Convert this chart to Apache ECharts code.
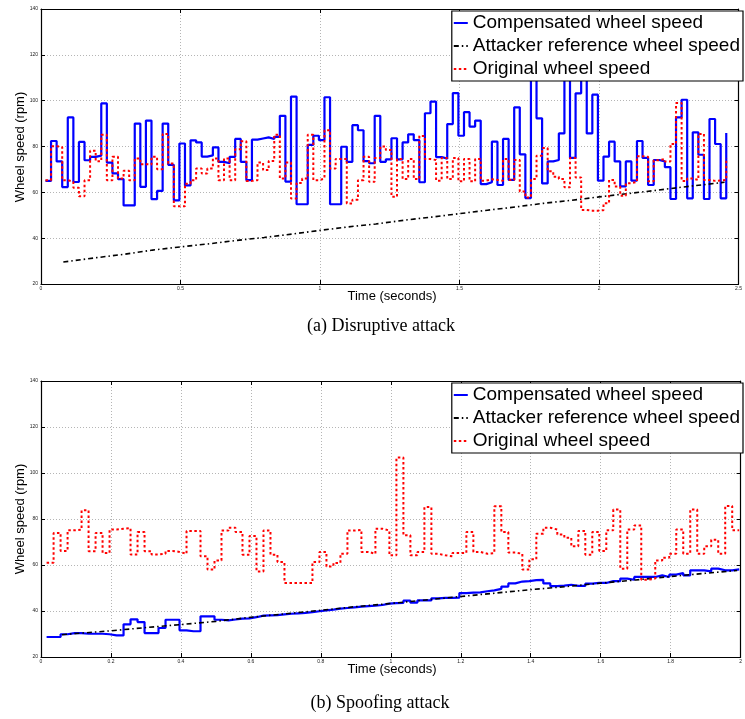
<!DOCTYPE html>
<html>
<head>
<meta charset="utf-8">
<script src="https://cdn.jsdelivr.net/npm/echarts@6/dist/echarts.min.js"></script>
<style>
html, body { margin: 0; padding: 0; background: #fff; }
#chart { width: 745px; height: 719px; }
</style>
</head>
<body>
<div id="chart"></div>
<script>
// sample time of the first step and step width (s)
var T0 = 0.016;
var DT = 0.02;

var seriesNames = ['Compensated wheel speed', 'Attacker reference wheel speed', 'Original wheel speed'];

// (a) disruptive attack
var topBlue = [
	65, 82.4, 73.5, 62.3, 92.7, 64.5, 82, 74, 75.5, 76,
	98.8, 73, 68.3, 65.8, 54.3, 54.3, 90, 62.4, 91.3, 57,
	60.6, 90, 72, 56.5, 81.3, 63, 82.7, 81.8, 75.6, 76.1,
	79.6, 73.3, 72.7, 75.5, 83.3, 73.3, 65.3, 83, 83.5, 84,
	83.3, 84.2, 93.4, 64.7, 101.8, 54.8, 54.8, 80.7, 84.7, 82.8,
	101.5, 54.8, 54.8, 79.9, 73.3, 89.3, 87.1, 73.6, 72.7, 93.4,
	73.3, 74.4, 83.6, 74.4, 81.8, 85.3, 82.8, 64.4, 94.5, 99.6,
	75.4, 74.7, 89.8, 103.3, 84.7, 95, 88.7, 91.3, 63.6, 64.4,
	82.1, 63.2, 83.3, 65.4, 97.1, 76.6, 57.5, 115, 92.3, 63.9,
	73.5, 74.1, 85.7, 112, 75, 103.2, 110, 85.7, 102.6, 65.1,
	75.6, 82.1, 73.5, 62.6, 73.5, 65.1, 82.4, 75, 63.2, 74.1,
	73.5, 71, 57.1, 92.7, 100.4, 57.4, 86.2, 76.4, 57.1, 92,
	81.1, 57.4, 85.9
];
var topRed = [
	65.3, 80.1, 79.8, 65.3, 64.6, 62, 58.3, 65.3, 78.2, 73.6,
	85.1, 65.3, 75.5, 66, 69.4, 65.3, 74.8, 72.3, 72.1, 75.5,
	70.1, 85.5, 72.6, 53.9, 53.9, 63.8, 65.3, 70.4, 68.2, 70.4,
	74.8, 65.3, 74.8, 65.3, 78.8, 82.3, 65, 65.3, 73, 69.7,
	73.7, 85.1, 66, 73, 57.3, 64.1, 66, 85.1, 65.3, 66,
	87.1, 70.4, 74.6, 74.6, 55.1, 56.8, 65.3, 75.5, 64.6, 75,
	80, 78.5, 58.1, 74.5, 65.8, 74.5, 65.8, 84.6, 74.5, 74.1,
	65.1, 75, 65.8, 75, 64.8, 74.5, 64.8, 74.5, 65.1, 65.7,
	65.4, 65.1, 74.5, 65.4, 74.1, 60.4, 57.8, 65.8, 76, 79.3,
	69.2, 66.8, 65.8, 62.2, 75, 66.5, 52.3, 52, 52, 52.2,
	55.2, 65.4, 62.5, 58.5, 64, 64.5, 75.8, 75.5, 64.8, 74,
	74.5, 73.5, 81.1, 99, 65, 66, 65.4, 85.5, 65.4, 65,
	65.2, 65.4, 75
];
var topAttackT = [0.08, 0.2, 0.3, 0.4, 0.5, 0.6, 0.7, 0.8, 0.9, 1.0, 1.1, 1.2, 1.3, 1.4, 1.5, 1.6, 1.7, 1.8, 1.9, 2.0, 2.1, 2.2, 2.3, 2.45];
var topAttackV = [29.6, 31.5, 33, 34.8, 36.2, 37.5, 39, 40.3, 41.8, 43.4, 44.9, 46.2, 47.8, 49.2, 50.7, 52.2, 53.6, 55.2, 56.5, 58, 59.4, 60.8, 62.3, 64.4];

// (b) spoofing attack
var botBlue = [
	28.7, 28.7, 29.9, 30.4, 30.4, 30.1, 30.1, 30.1, 29.9, 29.4,
	29.4, 34.2, 36.4, 35.2, 30.4, 30.4, 32.6, 36.2, 36.2, 31.6,
	31.2, 31.2, 37.7, 37.7, 36.2, 35.9, 36.3, 36.7, 36.8, 37.3,
	38, 38.1, 38.2, 38.5, 38.8, 39, 39.2, 39.5, 39.9, 40.3,
	40.6, 41, 41.3, 41.6, 41.9, 42.1, 42.3, 42.6, 43.2, 43.4,
	43.5, 44.5, 43.6, 44.6, 44.6, 45.5, 45.7, 45.7, 45.8, 47.8,
	48, 48.1, 48.6, 49, 49.6, 50.6, 52, 52.8, 53, 53.4,
	53.5, 52, 50.8, 51, 51.4, 50.9, 50.9, 51.9, 52.2, 52.2,
	53, 53, 54.1, 53.6, 54.8, 54.8, 54.8, 55.5, 54.8, 55.8,
	56.5, 55.5, 57.7, 57.7, 57.2, 58.4, 57.7, 57.7, 58.1, 58.1
];
var botRed = [
	61, 73.9, 66.1, 75.1, 75.4, 83.8, 66, 73.9, 65.2, 75.4,
	75.8, 76.1, 64.6, 74.3, 66, 64.6, 64.9, 66.1, 65.7, 64.9,
	74.8, 74.8, 63.8, 58, 62, 75, 76.2, 74.3, 64.5, 72.6,
	57.2, 75, 64.5, 61.3, 52.2, 52.2, 52.2, 52.2, 61.3, 65.7,
	59.4, 60.9, 64.9, 75, 75.3, 65.7, 64.9, 75.8, 75, 64.2,
	106.7, 72.9, 64.2, 65.7, 85.2, 64.9, 64.2, 63.8, 65.2, 65.2,
	74.3, 65.7, 64.9, 65.2, 85.5, 74.3, 65.4, 64.9, 58, 62.5,
	73.6, 76.2, 75.4, 73.3, 71.9, 68.1, 74.8, 64.5, 74.3, 66.1,
	75.1, 84.1, 58.4, 75.4, 77.2, 53.6, 54.1, 62, 63.2, 64.9,
	75.4, 64.9, 84.1, 64.9, 68.1, 71, 64.9, 85.7, 75.1, 75.1
];
var botAttackT = [0.06, 0.1, 0.2, 0.3, 0.4, 0.5, 0.6, 0.7, 0.8, 0.9, 1.0, 1.1, 1.2, 1.3, 1.4, 1.5, 1.6, 1.7, 1.8, 1.9, 1.99];
var botAttackV = [29.7, 30.2, 31.4, 32.8, 34.1, 35.5, 37.3, 38.8, 40.3, 41.9, 43.3, 44.8, 46.3, 47.8, 49.3, 50.6, 52.1, 53.5, 55, 56.4, 57.6];

// tick labels
var yTicks = [20, 40, 60, 80, 100, 120, 140];
var topXTicks = [0, 0.5, 1, 1.5, 2, 2.5];
var botXTicks = [0, 0.2, 0.4, 0.6, 0.8, 1, 1.2, 1.4, 1.6, 1.8, 2];

var SANS = '"Liberation Sans", Arial, Helvetica, sans-serif';
var SERIF = '"Liberation Serif", "Times New Roman", serif';

function stairs(vals) {
	var out = [];
	for (var i = 0; i < vals.length; i++) {
		out.push([+(T0 + DT * i).toFixed(3), vals[i]]);
	}
	return out;
}
function pairs(ts, vs) {
	return ts.map(function(t, i) { return [t, vs[i]]; });
}

function xAxis(grid, ticks, pos) {
	var main = pos == 'bottom';
	return {
		type: 'value', gridIndex: grid, position: pos,
		min: ticks[0], max: ticks[ticks.length - 1], interval: ticks[1] - ticks[0],
		axisLine: { show: true, onZero: false, lineStyle: { color: '#000', width: 1.2 } },
		axisTick: { show: true, inside: true, length: 4, lineStyle: { color: '#000' } },
		axisLabel: { show: main, fontSize: 5, color: '#222', margin: 2, fontFamily: SANS },
		splitLine: { show: main, lineStyle: { color: '#b5b5b5', type: [1, 2], width: 1 } }
	};
}
function yAxis(grid, pos) {
	var main = pos == 'left';
	return {
		type: 'value', gridIndex: grid, position: pos,
		min: yTicks[0], max: yTicks[yTicks.length - 1], interval: 20,
		axisLine: { show: true, onZero: false, lineStyle: { color: '#000', width: 1.2 } },
		axisTick: { show: true, inside: true, length: 4, lineStyle: { color: '#000' } },
		axisLabel: { show: main, fontSize: 5, color: '#222', margin: 3, fontFamily: SANS },
		splitLine: { show: main, lineStyle: { color: '#b5b5b5', type: [1, 2], width: 1 } }
	};
}
function legend(top) {
	// itemStyle opacity 0 hides the marker dot, the line sample stays
	return {
		orient: 'vertical', right: 2, top: top,
		backgroundColor: '#fff', borderColor: '#000', borderWidth: 1.2, borderRadius: 0,
		padding: [1, 3, 1, 1], itemGap: 1, itemWidth: 14, itemHeight: 10,
		selectedMode: false,
		itemStyle: { opacity: 0 },
		textStyle: { fontFamily: SANS, fontSize: 19, color: '#000', lineHeight: 22 },
		data: seriesNames
	};
}
function lines(xi, yi, blue, attack, red) {
	return [{
		name: seriesNames[0], type: 'line', xAxisIndex: xi, yAxisIndex: yi,
		step: 'end', symbol: 'none', data: blue,
		lineStyle: { color: '#0000ff', width: 2.2 }, itemStyle: { color: '#0000ff' }
	}, {
		name: seriesNames[1], type: 'line', xAxisIndex: xi, yAxisIndex: yi,
		symbol: 'none', data: attack,
		lineStyle: { color: '#000', width: 1.6, type: [5, 3, 1.5, 3] }, itemStyle: { color: '#000' }
	}, {
		name: seriesNames[2], type: 'line', xAxisIndex: xi, yAxisIndex: yi,
		step: 'end', symbol: 'none', data: red,
		lineStyle: { color: '#ff0000', width: 2, type: [2.5, 2.5] }, itemStyle: { color: '#ff0000' }
	}];
}
function label(text, x, y, font, rot) {
	return {
		type: 'text', x: x, y: y, rotation: rot || 0, z: 10,
		style: { text: text, font: font, fill: '#000', align: 'center', verticalAlign: 'middle' }
	};
}

var myChart = echarts.init(document.getElementById('chart'), null, { renderer: 'canvas' });
var option = {
	animation: false,
	backgroundColor: '#fff',
	grid: [
		{ left: 41, top: 9, width: 702, height: 275 },
		{ left: 41, top: 381, width: 702, height: 276 }
	],
	xAxis: [
		xAxis(0, topXTicks, 'bottom'), xAxis(0, topXTicks, 'top'),
		xAxis(1, botXTicks, 'bottom'), xAxis(1, botXTicks, 'top')
	],
	yAxis: [
		yAxis(0, 'left'), yAxis(0, 'right'),
		yAxis(1, 'left'), yAxis(1, 'right')
	],
	legend: [legend(11), legend(383)],
	series: lines(0, 0, stairs(topBlue), pairs(topAttackT, topAttackV), stairs(topRed))
		.concat(lines(2, 2, stairs(botBlue), pairs(botAttackT, botAttackV), stairs(botRed))),
	graphic: [
		label('Wheel speed (rpm)', 20, 147, '13px ' + SANS, Math.PI / 2),
		label('Wheel speed (rpm)', 20, 519, '13px ' + SANS, Math.PI / 2),
		label('Time (seconds)', 392, 296, '13px ' + SANS),
		label('Time (seconds)', 392, 669, '13px ' + SANS),
		label('(a) Disruptive attack', 381, 326, '18px ' + SERIF),
		label('(b) Spoofing attack', 380, 703, '18px ' + SERIF)
	]
};
myChart.setOption(option);
</script>
</body>
</html>
